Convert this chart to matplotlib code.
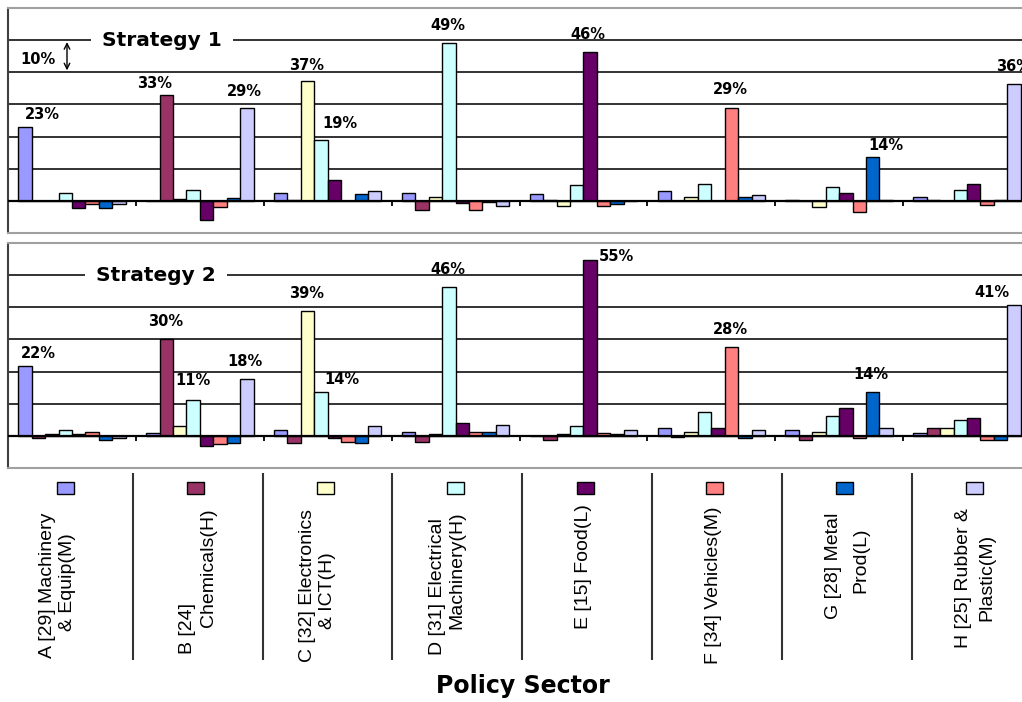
import numpy as np
import matplotlib
matplotlib.use("Agg")
import matplotlib.pyplot as plt
from matplotlib.patches import Rectangle

# ---------------- data ----------------
sectors = ["A", "B", "C", "D", "E", "F", "G", "H"]
sector_lines = [
    ["A [29] Machinery", "& Equip(M)"],
    ["B [24]", "Chemicals(H)"],
    ["C [32] Electronics", "& ICT(H)"],
    ["D [31] Electrical", "Machinery(H)"],
    ["E [15] Food(L)"],
    ["F [34] Vehicles(M)"],
    ["G [28] Metal", "Prod(L)"],
    ["H [25] Rubber &", "Plastic(M)"],
]
colors = ["#9999FF", "#993366", "#FFFFCC", "#CCFFFF",
          "#660066", "#FF8080", "#0066CC", "#CCCCFF"]

# rows: policy sector group (A..H), columns: sector bar (A..H), values in %
strategy1 = [
    [23.0, 0.0, 0.0, 2.6, -2.3, -0.9, -2.3, -0.9],
    [0.0, 32.8, 0.5, 3.4, -5.9, -1.8, 0.8, 28.8],
    [2.6, 0.4, 37.2, 18.8, 6.5, 0.0, 2.2, 3.0],
    [2.6, -2.8, 1.2, 49.2, -0.8, -2.8, -0.3, -1.5],
    [2.2, 0.4, -1.5, 4.9, 46.3, -1.5, -1.0, 0.0],
    [3.0, 0.0, 1.2, 5.3, 0.0, 29.0, 1.2, 1.7],
    [0.3, 0.0, -1.8, 4.3, 2.6, -3.6, 13.6, 0.3],
    [1.2, 0.3, 0.0, 3.4, 5.3, -1.2, 0.3, 36.3],
]
strategy2 = [
    [21.8, -0.8, 0.5, 1.8, 0.5, 1.3, -1.2, -0.8],
    [1.0, 30.2, 3.1, 11.3, -3.1, -2.6, -2.3, 17.6],
    [1.8, -2.3, 38.9, 13.6, -0.8, -1.8, -2.3, 3.1],
    [1.3, -1.9, 0.5, 46.2, 4.1, 1.3, 1.3, 3.5],
    [0.0, -1.2, 0.5, 3.1, 54.6, 1.0, 0.5, 1.8],
    [2.3, -0.4, 1.3, 7.4, 2.3, 27.8, -0.8, 1.8],
    [1.8, -1.2, 1.3, 6.2, 8.8, -0.8, 13.6, 2.6],
    [1.0, 2.3, 2.6, 4.8, 5.7, -1.2, -1.2, 40.6],
]
# labelled bars: (group, bar)
labels1 = [(0, 0), (1, 1), (1, 7), (2, 2), (2, 3), (3, 3), (4, 4), (5, 5), (6, 6), (7, 7)]
labels2 = [(0, 0), (1, 1), (1, 3), (1, 7), (2, 2), (2, 3), (3, 3), (4, 4), (5, 5), (6, 6), (7, 7)]
# label offsets in pixels (right, up) from bar top
offsets1 = [(17, 12), (-12, 12), (-2, 17), (-1, 16), (19, 17), (-1, 17), (-2, 18), (-1, 18), (13, 12), (0, 18)]
offsets2 = [(13, 12), (-1, 17), (0, 19), (-2, 18), (-1, 17), (21, 13), (-1, 18), (26, 4), (-1, 17), (-2, 18), (-22, 13)]
titles = ["Strategy 1", "Strategy 2"]
gridlines = [10, 20, 30, 40, 50]

# ---------------- figure ----------------
W, H = 1022, 702
fig = plt.figure(figsize=(W / 100, H / 100), dpi=100)


def px_axes(x0, y0, x1, y1, **kw):
    return fig.add_axes([x0 / W, 1 - y1 / H, (x1 - x0) / W, (y1 - y0) / H], **kw)


# overlay for bottom table (pixel coordinates)
ax0 = px_axes(0, 0, W, H)
ax0.set_xlim(0, W)
ax0.set_ylim(H, 0)
ax0.axis("off")

n_groups = len(sectors)
n_series = len(sectors)
bw = 0.105
panels = [
    (strategy1, labels1, offsets1, titles[0], 8, 233, 0.704),
    (strategy2, labels2, offsets2, titles[1], 243, 468, 0.657),
]
for pi, (data, labs, offs, title, top, bot, tx) in enumerate(panels):
    ax = px_axes(8, top, 1031, bot)
    ax.set_xlim(-0.5, n_groups - 0.5)
    ax.set_ylim(-10, 60)
    vals = np.array(data)
    x = np.arange(n_groups)
    for s in range(n_series):
        ax.bar(x + (s - (n_series - 1) / 2) * bw, vals[:, s], width=bw,
               color=colors[s], edgecolor="black", linewidth=1.0, zorder=3)
    for g in gridlines:
        ax.axhline(g, color="#222222", lw=1.3, zorder=1)
    ax.axhline(0, color="black", lw=1.6, zorder=4)
    ax.vlines(np.arange(n_groups - 1) + 0.5, -1.6, 0, color="black", lw=1.3, zorder=4)
    ax.set_xticks([])
    ax.set_yticks([])
    for side in ["top", "bottom", "right"]:
        ax.spines[side].set_color("#a0a0a0")
        ax.spines[side].set_linewidth(1.5)
    ax.spines["left"].set_color("#404040")
    ax.spines["left"].set_linewidth(1.5)

    ax.text(tx, 50, title, ha="center", va="center", fontsize=14.5,
            fontweight="bold", family="DejaVu Sans", zorder=6,
            bbox=dict(boxstyle="square,pad=0.55", facecolor="white", edgecolor="none"))

    for (g, s), (dx, dy) in zip(labs, offs):
        v = vals[g, s]
        ax.annotate(f"{round(v):d}%", xy=(g + (s - (n_series - 1) / 2) * bw, v),
                    xytext=(dx, dy), textcoords="offset pixels",
                    ha="center", va="center", fontsize=10.5, fontweight="bold",
                    family="DejaVu Sans", zorder=7, annotation_clip=False)

    if pi == 0:
        xa = (67 - 8) / ((1031 - 8) / n_groups) - 0.5
        ax.annotate("", xy=(xa, 40.6), xytext=(xa, 49.4),
                    arrowprops=dict(arrowstyle="<->", lw=1.0, color="black",
                                    shrinkA=0, shrinkB=0), zorder=6)
        ax.text((38 - 8) / ((1031 - 8) / n_groups) - 0.5, 44, "10%",
                ha="center", va="center", fontsize=10.5, fontweight="bold",
                family="DejaVu Sans", zorder=6)

# ---------------- bottom table ----------------
cell_w = 129.8
cell_x0 = 3
for k in range(1, n_groups):
    xs = cell_x0 + cell_w * k
    ax0.plot([xs, xs], [473, 660], color="#333333", lw=1.5, solid_capstyle="butt")

line_pos = [
    [(48, 585), (68, 582)],
    [(187, 628), (209, 568)],
    [(307, 585), (327, 591)],
    [(437, 587), (457, 570)],
    [(584, 567)],
    [(714, 585)],
    [(833, 566), (861, 560)],
    [(964, 578), (987, 577)],
]
for k in range(n_groups):
    cx = cell_x0 + cell_w * (k + 0.5) - 2
    ax0.add_patch(Rectangle((cx - 8.5, 482), 17, 12, facecolor=colors[k],
                            edgecolor="black", lw=1.0))
    for line, (lx, ly) in zip(sector_lines[k], line_pos[k]):
        ax0.text(lx, ly, line, rotation=90, ha="center", va="center",
                 fontsize=14, family="Liberation Sans", color="black")

ax0.text(523, 686, "Policy Sector", ha="center", va="center", fontsize=17,
         fontweight="bold", family="DejaVu Sans")

fig.savefig("out.png", dpi=100)
